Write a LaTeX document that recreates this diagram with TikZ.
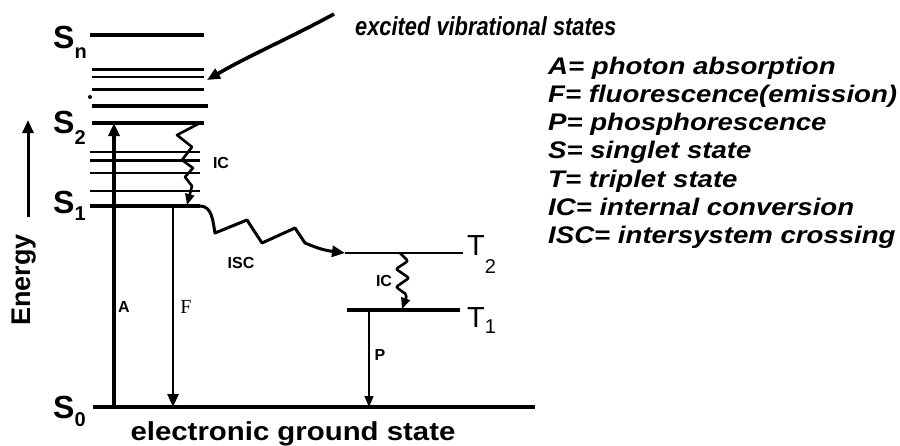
\documentclass[tikz,border=0pt]{standalone}
\usepackage{fontspec}
\setmainfont{Liberation Sans}
\newfontfamily\legfont[FakeStretch=1.15]{Liberation Sans}
\newfontfamily\titfont[FakeStretch=0.84]{Liberation Sans}
\newfontfamily\gndfont[FakeStretch=1.13]{Liberation Sans}
\newfontfamily\serfont{Liberation Serif}
\usetikzlibrary{arrows.meta}
\tikzset{
  level/.style={line width=3.4pt},
  vib/.style={line width=2.2pt},
  tri/.style={-{Triangle[length=13pt,width=11pt]}},
  smalltri/.style={-{Triangle[length=11pt,width=9pt]}},
  statelab/.style={anchor=base west,inner sep=0pt,font=\bfseries\fontsize{32}{32}\selectfont},
  tlab/.style={anchor=base west,inner sep=0pt,font=\fontsize{29}{29}\selectfont},
  leg/.style={anchor=base west,inner sep=0pt,font=\legfont\bfseries\itshape\fontsize{24}{24}\selectfont},
  tag/.style={inner sep=0pt,font=\bfseries\fontsize{16}{16}\selectfont},
}
\newcommand{\lsub}[2]{\raisebox{#1}{\fontsize{20}{20}\selectfont #2}}
\begin{document}
\begin{tikzpicture}[x=1pt,y=-1pt]
\useasboundingbox (0,0) rectangle (900,445);
% level end points
\coordinate (snL) at (90,35);  \coordinate (snR) at (204,35);
\coordinate (v1L) at (92,69);  \coordinate (v1R) at (204,69);
\coordinate (v2L) at (92,77);  \coordinate (v2R) at (204,77);
\coordinate (v3L) at (92,89);  \coordinate (v3R) at (204,89);
\coordinate (v4L) at (92,106); \coordinate (v4R) at (208,106);
\coordinate (s2L) at (92,123); \coordinate (s2R) at (204,123);
\coordinate (w1L) at (90,152); \coordinate (w1R) at (200,152);
\coordinate (w2L) at (90,160); \coordinate (w2R) at (200,160);
\coordinate (w3L) at (90,173); \coordinate (w3R) at (200,173);
\coordinate (w4L) at (90,191); \coordinate (w4R) at (200,191);
\coordinate (s1L) at (90,206); \coordinate (s1R) at (200,206);
\coordinate (s0L) at (93,407); \coordinate (s0R) at (535,407);
\coordinate (t2L) at (345,253); \coordinate (t2R) at (463,253);
\coordinate (t1L) at (347,310); \coordinate (t1R) at (460,310);
% levels
\draw[level] (snL) -- (snR);
\draw[vib,line width=3pt] (v1L) -- (v1R);
\draw[vib] (v2L) -- (v2R);
\draw[vib,line width=3pt] (v3L) -- (v3R);
\draw[vib,line width=3.4pt] (v4L) -- (v4R);
\fill (90,97) circle (2pt);
\draw[level] (s2L) -- (s2R);
\draw[vib] (w1L) -- (w1R);
\draw[vib,line width=3pt] (w2L) -- (w2R);
\draw[vib] (w3L) -- (w3R);
\draw[vib] (w4L) -- (w4R);
\draw[level] (s0L) -- (s0R);
\draw[line width=2.6pt] (t2L) -- (t2R);
\draw[level] (t1L) -- (t1R);
% S1 with ISC
\draw[level] (s1L) -- (s1R);
\draw[line width=3pt,line join=round,tri] (s1R) to[out=0,in=100] (215,233) -- (247,220) -- (262,243) -- (295,228) -- (305,243)
   .. controls (315,247) and (322,250) .. (t2L);
% state labels
\node[statelab] (sn) at (53,48) {S\lsub{-10pt}{n}};
\node[statelab] (s2) at (53,133) {S\lsub{-11pt}{2}};
\node[statelab] (s1) at (53,213) {S\lsub{-7pt}{1}};
\node[statelab] (s0) at (53,418) {S\lsub{-8pt}{0}};
\node[tlab] (t2) at (467,255) {T\lsub{-18pt}{2}};
\node[tlab] (t1) at (467,327) {T\lsub{-6pt}{1}};
% energy axis
\coordinate (eb) at (28,217); \coordinate (et) at (28,120);
\draw[line width=3pt,tri] (eb) -- (et);
\node[rotate=90,inner sep=0pt,font=\bfseries\fontsize{27}{27}\selectfont] (energy) at (24,280) {Energy};
% transitions
\coordinate (aB) at (114,407); \coordinate (aT) at (114,123);
\draw[line width=3.2pt,tri] (aB) -- (aT);
\coordinate (fT) at (173,206); \coordinate (fB) at (173,407);
\draw[line width=2.4pt,tri] (fT) -- (fB);
\coordinate (pT) at (369,310); \coordinate (pB) at (369,407);
\draw[line width=1.6pt,smalltri] (pT) -- (pB);
% IC (singlet)
\coordinate (ic1a) at (200,123); \coordinate (ic1b) at (187,205);
\draw[line width=2.6pt,line join=round,smalltri] (ic1a) -- (177,135) -- (192,147) -- (182,160) -- (193,168) -- (185,177) -- (192,186) -- (ic1b);
% IC (triplet)
\coordinate (ic2a) at (400,253); \coordinate (ic2b) at (402,309);
\draw[line width=2.6pt,rounded corners=2pt,smalltri] (ic2a) -- (408,261) -- (396,269) -- (409,278) -- (396,287) -- (407,295) -- (ic2b);
% tags
\node[tag] (icA) at (221,163) {IC};
\node[tag] (isc) at (241,263) {ISC};
\node[tag] (icB) at (384,281) {IC};
\node[tag] (atag) at (124,307) {A};
\node[inner sep=0pt,font=\serfont\fontsize{20}{20}\selectfont] (ftag) at (186,307) {F};
\node[tag] (ptag) at (380,355) {P};
% title and pointer
\node[anchor=base west,inner sep=0pt,font=\titfont\bfseries\itshape\fontsize{26}{26}\selectfont] (title) at (355,35) {excited vibrational states};
\coordinate (arrS) at (334,14); \coordinate (arrE) at (207,80);
\draw[line width=3.6pt,tri] (arrS) .. controls (290,38) and (250,55) .. (arrE);
% ground label
\node[anchor=base,inner sep=0pt,font=\gndfont\bfseries\fontsize{26}{26}\selectfont] (ground) at (293,440) {electronic ground state};
% legend
\node[leg] (l1) at (548,74) {A= photon absorption};
\node[leg] (l2) at (548,102) {F= fluorescence(emission)};
\node[leg] (l3) at (548,130.5) {P= phosphorescence};
\node[leg] (l4) at (548,158.5) {S= singlet state};
\node[leg] (l5) at (548,187) {T= triplet state};
\node[leg] (l6) at (548,215) {IC= internal conversion};
\node[leg] (l7) at (548,243) {ISC= intersystem crossing};
\end{tikzpicture}
\end{document}
